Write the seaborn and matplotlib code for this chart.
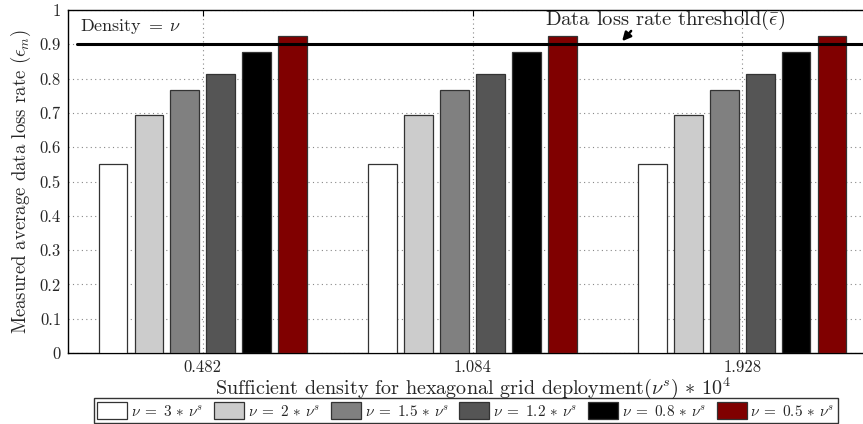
import matplotlib
matplotlib.use("Agg")
import matplotlib.pyplot as plt
import seaborn as sns
import pandas as pd
from matplotlib.patches import Patch

categories = ["0.482", "1.084", "1.928"]
series = [r"$\nu\;=\;3\,*\,\nu^s$", r"$\nu\;=\;2\,*\,\nu^s$", r"$\nu\;=\;1.5\,*\,\nu^s$",
          r"$\nu\;=\;1.2\,*\,\nu^s$", r"$\nu\;=\;0.8\,*\,\nu^s$", r"$\nu\;=\;0.5\,*\,\nu^s$"]
values = {
    series[0]: [0.551, 0.551, 0.551],
    series[1]: [0.694, 0.694, 0.694],
    series[2]: [0.768, 0.768, 0.768],
    series[3]: [0.814, 0.814, 0.814],
    series[4]: [0.877, 0.877, 0.877],
    series[5]: [0.923, 0.923, 0.923],
}
colors = ["#ffffff", "#cccccc", "#808080", "#555555", "#000000", "#800000"]
threshold = 0.9
yticks = [0, 0.1, 0.2, 0.3, 0.4, 0.5, 0.6, 0.7, 0.8, 0.9, 1]
ytick_labels = ["0", "0.1", "0.2", "0.3", "0.4", "0.5", "0.6", "0.7", "0.8", "0.9", "1"]

rows = []
for s in series:
    for c, v in zip(categories, values[s]):
        rows.append({"cat": c, "series": s, "value": v})
df = pd.DataFrame(rows)

sns.set_style("white")
plt.rcParams["font.family"] = ["cmr10", "DejaVu Serif"]
plt.rcParams["mathtext.fontset"] = "cm"
plt.rcParams["axes.formatter.use_mathtext"] = True

fig = plt.figure(figsize=(8.63, 4.24), dpi=100)
ax = fig.add_axes([68/863, 1-353/424, (877-68)/863, (353-10)/424])

palette = dict(zip(series, colors))
sns.barplot(data=df, x="cat", y="value", hue="series", hue_order=series,
            order=categories, palette=palette, gap=0.2, width=0.8,
            edgecolor="#333333", linewidth=0.9, saturation=1, ax=ax,
            legend=False, zorder=3)

ax.set_xlim(-0.5, 2.5)
ax.set_ylim(0, 1)
ax.set_yticks(yticks)
ax.set_yticklabels(ytick_labels)
ax.grid(True, linestyle=(0, (1, 3)), color="#888888", linewidth=0.8, zorder=0)
ax.set_axisbelow(True)
for sp in ax.spines.values():
    sp.set_visible(True)
    sp.set_color("black")
    sp.set_linewidth(1.0)
ax.tick_params(direction="in", top=True, right=True, length=4, labelsize=12,
               color="black", pad=5)

ax.axhline(threshold, xmin=0.011, color="black", linewidth=2.2, zorder=4)

ax.set_xlabel(r"Sufficient density for hexagonal grid deployment$(\nu^s)\,*\,10^4$",
              fontsize=14.5, labelpad=0)
ax.set_ylabel(r"Measured average data loss rate ($\epsilon_m$)", fontsize=13.5, labelpad=5)

ax.text(-0.455, 0.952, r"$\mathrm{Density}\;=\;\nu$", fontsize=13, va="center", ha="left", zorder=5)
ax.text(1.267, 0.97, r"Data loss rate threshold$(\bar{\epsilon})$", fontsize=14.8,
        va="center", ha="left", zorder=5)
ax.annotate("", xy=(1.548, 0.903), xytext=(1.595, 0.945),
            arrowprops=dict(arrowstyle="-|>,head_length=0.5,head_width=0.25",
                            color="black", lw=1.8), zorder=6)

handles = [Patch(facecolor=c, edgecolor="#333333", linewidth=0.9, label=s)
           for s, c in zip(series, colors)]
leg = fig.legend(handles=handles, loc="lower center", ncol=6,
                 bbox_to_anchor=(466/863, 0.0), fontsize=11, frameon=True,
                 fancybox=False, edgecolor="black", handlelength=1.96,
                 handleheight=1.35, handletextpad=0.25, columnspacing=0.7,
                 borderpad=0.25, borderaxespad=0.05)
leg.get_frame().set_linewidth(1.0)

fig.savefig("out.png", dpi=100)
